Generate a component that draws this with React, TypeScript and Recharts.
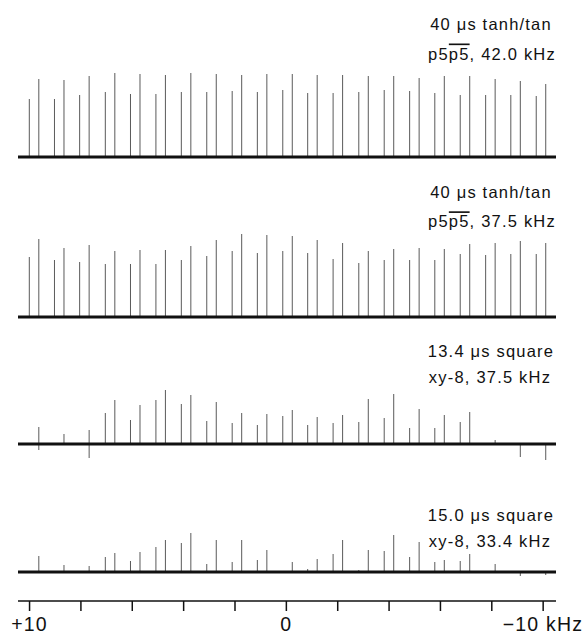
import React from 'react';
import { ComposedChart, Bar, XAxis, YAxis, ReferenceLine } from 'recharts';

// spike positions (kHz), two lines per sideband
const firstKHz = [10.0, 9.02, 8.04, 7.04, 6.06, 5.07, 4.08, 3.09, 2.1, 1.12, 0.13, -0.84, -1.83, -2.83, -3.82, -4.81, -5.79, -6.78, -7.77, -8.75, -9.74];
const secondKHz = [9.63, 8.65, 7.67, 6.67, 5.69, 4.7, 3.71, 2.72, 1.73, 0.75, -0.24, -1.21, -2.2, -3.2, -4.19, -5.18, -6.16, -7.15, -8.14, -9.12, -10.11];

// 40 us tanh/tan, p5p5, 42.0 kHz
const tanh42First = [58, 58, 62, 65, 63, 63, 65, 65, 66, 65, 67, 64, 64, 65, 67, 66, 64, 62, 62, 62, 61];
const tanh42Second = [78, 77, 81, 84, 83, 82, 84, 83, 82, 83, 83, 82, 82, 81, 81, 79, 81, 81, 78, 76, 73];
const tanh42Dips = [0, 0, 0, 0, 0, 0, 0, 0, 0, 0, 0, 0, 0, 0, 0, 0, 0, 0, 0, 0, 0];

// 40 us tanh/tan, p5p5, 37.5 kHz
const tanh375First = [60, 57, 55, 53, 53, 53, 57, 61, 66, 64, 66, 64, 58, 54, 57, 57, 57, 63, 62, 63, 63];
const tanh375Second = [78, 69, 72, 66, 67, 67, 71, 77, 83, 82, 81, 77, 74, 66, 68, 69, 68, 73, 74, 76, 74];
const tanh375Dips = [0, 0, 0, 0, 0, 0, 0, 0, 0, 0, 0, 0, 0, 0, 0, 0, 0, 0, 0, 0, 0];

// 13.4 us square, xy-8, 37.5 kHz
const sq134First = [0, 0, 0, 31, 24, 44, 40, 23, 21, 19, 28, 19, 21, 22, 26, 16, 16, 22, 0, 0, 0];
const sq134Second = [17, 10, 14, 44, 39, 54, 49, 42, 31, 30, 34, 27, 29, 45, 50, 35, 29, 32, 4, 0, 0];
const sq134Dips = [-6, 0, -14, 0, 0, 0, 0, 0, 0, 0, 0, 0, 0, 0, 0, 0, 0, 0, 0, -13, -16];

// 15.0 us square, xy-8, 33.4 kHz
const sq150First = [0, 0, 0, 15, 11, 25, 29, 8, 10, 12, 0, 3, 18, 2, 21, 15, 10, 11, 0, 0, 0];
const sq150Second = [16, 7, 6, 19, 20, 32, 39, 32, 32, 22, 10, 13, 32, 22, 37, 30, 12, 18, 8, 0, 0];
const sq150Dips = [0, 0, 0, 0, 0, 0, 0, 0, 0, 0, 0, 0, 0, 0, 0, 0, 0, 0, 0, -4, -3];

const axisTicks = [10, 8, 6, 4, 2, 0, -2, -4, -6, -8, -10];

const buildRows = (first: number[], second: number[], dips: number[]) => {
  const rows: { khz: number; up: number; down: number }[] = [];
  firstKHz.forEach((k, i) => rows.push({ khz: k, up: first[i], down: 0 }));
  secondKHz.forEach((k, i) => rows.push({ khz: k, up: second[i], down: dips[i] }));
  return rows.sort((a, b) => b.khz - a.khz);
};

const FONT = '"Liberation Sans", Arial, Helvetica, sans-serif';

const AxisTick = (props: any) => {
  const { x, y, payload } = props;
  const v = payload.value;
  let label = '';
  let anchor: 'middle' | 'end' = 'middle';
  let tx = x;
  if (v === 10) label = '+10';
  if (v === 0) label = '0';
  if (v === -10) {
    label = '\u221210 kHz';
    anchor = 'end';
    tx = x + 40;
  }
  if (!label) return null;
  return (
    <text x={tx} y={y + 20} textAnchor={anchor} fontFamily={FONT} fontSize={19.5} letterSpacing={1.2} fill="#111">
      {label}
    </text>
  );
};

interface SpectrumProps {
  rows: { khz: number; up: number; down: number }[];
  top: number;
  withAxis?: boolean;
}

const Spectrum: React.FC<SpectrumProps> = ({ rows, top, withAxis }) => {
  const height = withAxis ? 153 : 110;
  return (
    <div style={{ position: 'absolute', left: 0, top }}>
      <ComposedChart
        width={585}
        height={height}
        data={rows}
        stackOffset="sign"
        margin={{ top: 0, right: 29, bottom: 0, left: 18 }}
      >
        <XAxis
          dataKey="khz"
          type="number"
          domain={[-10.5, 10.45]}
          reversed
          allowDataOverflow
          hide={!withAxis}
          ticks={axisTicks}
          interval={0}
          height={34}
          tickSize={10}
          tickMargin={0}
          axisLine={{ stroke: '#111', strokeWidth: 1.5 }}
          tickLine={{ stroke: '#111', strokeWidth: 1.5 }}
          tick={<AxisTick />}
        />
        <YAxis hide type="number" domain={withAxis ? [-29, 90] : [-20, 90]} allowDataOverflow />
        <ReferenceLine y={0} stroke="#111" strokeWidth={2.8} />
        <Bar dataKey="up" stackId="s" barSize={1} fill="#5a5a5a" isAnimationActive={false} />
        <Bar dataKey="down" stackId="s" barSize={1} fill="#5a5a5a" isAnimationActive={false} />
      </ComposedChart>
    </div>
  );
};

const labels = [
  { a: '40 \u03bcs tanh/tan', b: ', 42.0 kHz', over: true, y1: 30, y2: 59.5 },
  { a: '40 \u03bcs tanh/tan', b: ', 37.5 kHz', over: true, y1: 197.7, y2: 227.3 },
  { a: '13.4 \u03bcs square', b: 'xy-8, 37.5 kHz', over: false, y1: 357.3, y2: 383 },
  { a: '15.0 \u03bcs square', b: 'xy-8, 33.4 kHz', over: false, y1: 521, y2: 547 },
];

export default function App() {
  return (
    <div style={{ position: 'absolute', left: 0, top: 0, width: 585, height: 635, background: '#fff' }}>
      <Spectrum rows={buildRows(tanh42First, tanh42Second, tanh42Dips)} top={67} />
      <Spectrum rows={buildRows(tanh375First, tanh375Second, tanh375Dips)} top={227} />
      <Spectrum rows={buildRows(sq134First, sq134Second, sq134Dips)} top={354} />
      <Spectrum rows={buildRows(sq150First, sq150Second, sq150Dips)} top={482} withAxis />
      <svg width={585} height={635} style={{ position: 'absolute', left: 0, top: 0, pointerEvents: 'none' }}>
        {labels.map((l, i) => (
          <g key={i} fontFamily={FONT} fontSize={16.5} letterSpacing={1.2} fill="#111" textAnchor="middle">
            <text x={491} y={l.y1}>{l.a}</text>
            {l.over ? (
              <text x={492} y={l.y2}>
                p5<tspan textDecoration="overline" style={{ textDecoration: 'overline' }}>p5</tspan>
                {l.b}
              </text>
            ) : (
              <text x={490} y={l.y2}>{l.b}</text>
            )}
          </g>
        ))}
      </svg>
    </div>
  );
}
